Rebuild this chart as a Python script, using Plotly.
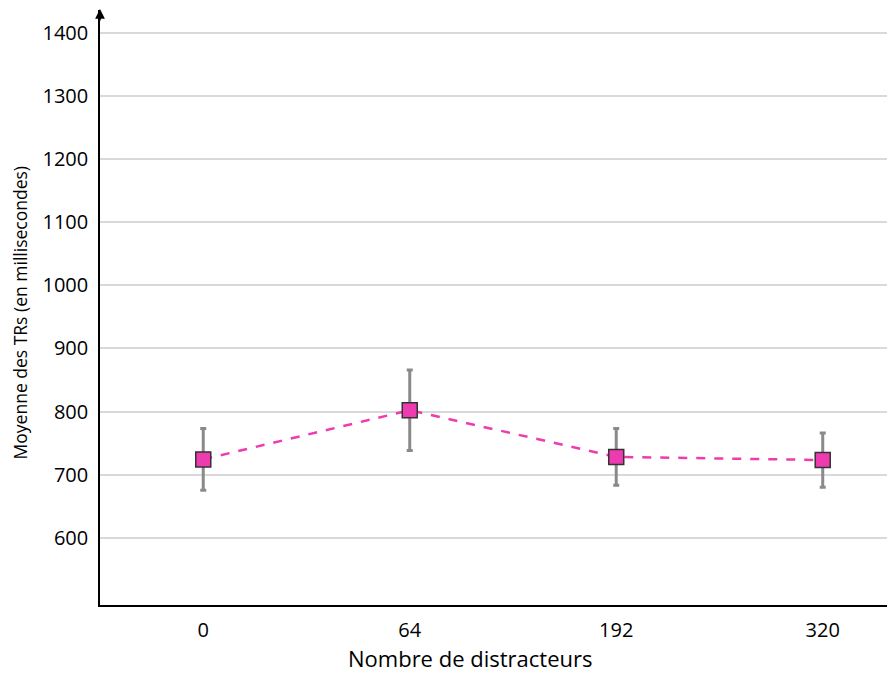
import plotly.graph_objects as go

categories = ["0", "64", "192", "320"]
means = [724, 802, 728, 723]
errors = [49, 64, 45, 43]
y_ticks = [600, 700, 800, 900, 1000, 1100, 1200, 1300, 1400]
x_title = "Nombre de distracteurs"
y_title = "Moyenne des TRs (en millisecondes)"

fig = go.Figure()
fig.add_trace(go.Scatter(
    x=categories, y=means,
    mode="lines+markers",
    line=dict(color="#EE3BB0", width=2.5, dash="dash"),
    marker=dict(symbol="square", size=15, color="#EE3BB0",
                line=dict(color="#333333", width=1.5)),
    error_y=dict(type="data", array=errors, visible=True,
                 color="#8A8A8A", thickness=3, width=3),
    showlegend=False,
))

font_family = "'Open Sans', sans-serif"
fig.update_layout(
    width=887, height=667,
    margin=dict(l=92, r=0, t=2, b=70),
    paper_bgcolor="white", plot_bgcolor="white",
    font=dict(family=font_family, size=18, color="black"),
    xaxis=dict(
        type="category", range=[-0.5, 3.35],
        showgrid=False, showline=True, linecolor="black", linewidth=1.5,
        ticks="", tickfont=dict(size=20), ticklabelstandoff=6,
        zeroline=False,
    ),
    yaxis=dict(
        range=[493, 1437], tickvals=y_ticks,
        showgrid=True, gridcolor="#D9D9D9", gridwidth=1.5,
        showline=True, linecolor="black", linewidth=1.5,
        ticks="", tickfont=dict(size=20), ticklabelstandoff=6,
        zeroline=False,
    ),
    annotations=[
        dict(x=0, y=1.005, xref="paper", yref="paper",
             ax=0, ay=15, text="", showarrow=True,
             arrowhead=2, arrowsize=1.3, arrowwidth=1.5, arrowcolor="black"),
        dict(x=0.465, y=0, xref="paper", yref="paper", yshift=-53,
             xanchor="center", yanchor="middle", showarrow=False,
             text=x_title, font=dict(size=22)),
        dict(x=0, y=0.49, xref="paper", yref="paper", xshift=-80,
             xanchor="center", yanchor="middle", showarrow=False,
             textangle=-90, text=y_title, font=dict(size=17.5)),
    ],
)

fig.write_html("out.html")
